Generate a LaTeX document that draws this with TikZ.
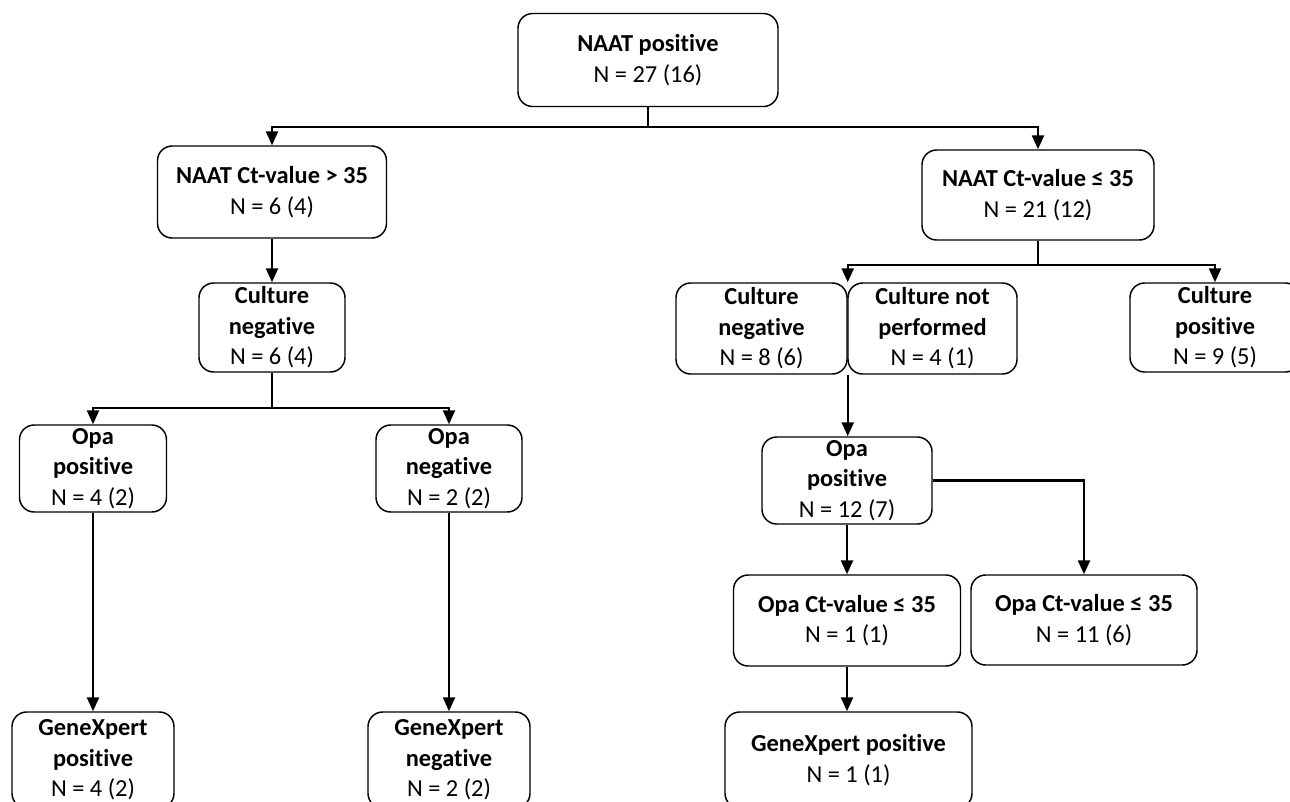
\documentclass[tikz,border=0pt]{standalone}
\usepackage{fontspec}
\setmainfont{Carlito}[Ligatures=NoCommon]
\usetikzlibrary{arrows.meta}
\begin{document}
\begin{tikzpicture}[x=0.75pt,y=-0.75pt,
  box/.style={draw=black,line width=1.1pt,rounded corners=11pt,fill=white,align=center,inner sep=2pt,
    font=\fontsize{18.3}{22.8}\selectfont},
  conn/.style={line width=1.8pt,-{Triangle[length=10.5pt,width=9pt]}},
  plain/.style={line width=1.8pt}]
\useasboundingbox (0,0) rectangle (1290,801);
\fill[white] (0,0) rectangle (1290,801);
\clip (0,0) rectangle (1290,801);
% nodes
\node[box,minimum width=195pt,minimum height=69.75pt] (top) at (648,60) {\textbf{NAAT positive}\\N = 27 (16)};
\node[box,minimum width=171.75pt,minimum height=69pt] (ctL) at (272,192) {\textbf{NAAT Ct-value > 35}\\N = 6 (4)};
\node[box,minimum width=174pt,minimum height=67.5pt] (ctR) at (1038,195) {\textbf{NAAT Ct-value ≤ 35}\\N = 21 (12)};
\node[box,minimum width=109.5pt,minimum height=66.75pt] (cnegL) at (272,327.5) {\textbf{Culture}\\\textbf{negative}\\N = 6 (4)};
\node[box,minimum width=110.25pt,minimum height=65.25pt] (opaposL) at (93,468.5) {\textbf{Opa}\\\textbf{positive}\\N = 4 (2)};
\node[box,minimum width=109.5pt,minimum height=65.25pt] (opanegL) at (449,468.5) {\textbf{Opa}\\\textbf{negative}\\N = 2 (2)};
\node[box,minimum width=121.5pt,minimum height=72pt] (gxposL) at (93,760) {\textbf{GeneXpert}\\\textbf{positive}\\N = 4 (2)};
\node[box,minimum width=121.5pt,minimum height=72pt] (gxnegL) at (449,760) {\textbf{GeneXpert}\\\textbf{negative}\\N = 2 (2)};
\node[box,minimum width=128.25pt,minimum height=68.25pt] (cnegR) at (761.5,328.5) {\textbf{Culture}\\\textbf{negative}\\N = 8 (6)};
\node[box,minimum width=126.75pt,minimum height=68.25pt] (cnotR) at (932.5,328.5) {\textbf{Culture not}\\\textbf{performed}\\N = 4 (1)};
\node[box,minimum width=127.5pt,minimum height=66.75pt] (cposR) at (1215,327.5) {\textbf{Culture}\\\textbf{positive}\\N = 9 (5)};
\node[box,minimum width=127.5pt,minimum height=65.25pt] (opaposR) at (847,480.5) {\textbf{Opa}\\\textbf{positive}\\N = 12 (7)};
\node[box,minimum width=170.25pt,minimum height=68.25pt] (opact1) at (847,620.5) {\textbf{Opa Ct-value ≤ 35}\\N = 1 (1)};
\node[box,minimum width=169.5pt,minimum height=67.5pt] (opact11) at (1084,620) {\textbf{Opa Ct-value ≤ 35}\\N = 11 (6)};
\node[box,minimum width=185.25pt,minimum height=72pt] (gxposR) at (848.5,760) {\textbf{GeneXpert positive}\\N = 1 (1)};
% connectors
\coordinate (j1) at (648,127);
\draw[plain] (top.south) -- (j1);
\draw[conn] (j1) -| (ctL.north);
\draw[conn] (j1) -| (ctR.north);
\draw[conn] (ctL.south) -- (cnegL.north);
\coordinate (j2) at (272,408);
\draw[plain] (cnegL.south) -- (j2);
\draw[conn] (j2) -| (opaposL.north);
\draw[conn] (j2) -| (opanegL.north);
\draw[conn] (opaposL.south) -- (gxposL.north);
\draw[conn] (opanegL.south) -- (gxnegL.north);
\coordinate (j3) at (1038,265);
\draw[plain] (ctR.south) -- (j3);
\draw[conn] (j3) -| (cnegR.north east);
\draw[conn] (j3) -| (cposR.north);
\draw[conn] (cnegR.south east) -- (cnegR.south east |- opaposR.north);
\draw[conn] (opaposR.east) -| (opact11.north);
\draw[conn] (opaposR.south) -- (opact1.north);
\draw[conn] (opact1.south) -- (opact1.south |- gxposR.north);
\end{tikzpicture}
\end{document}
